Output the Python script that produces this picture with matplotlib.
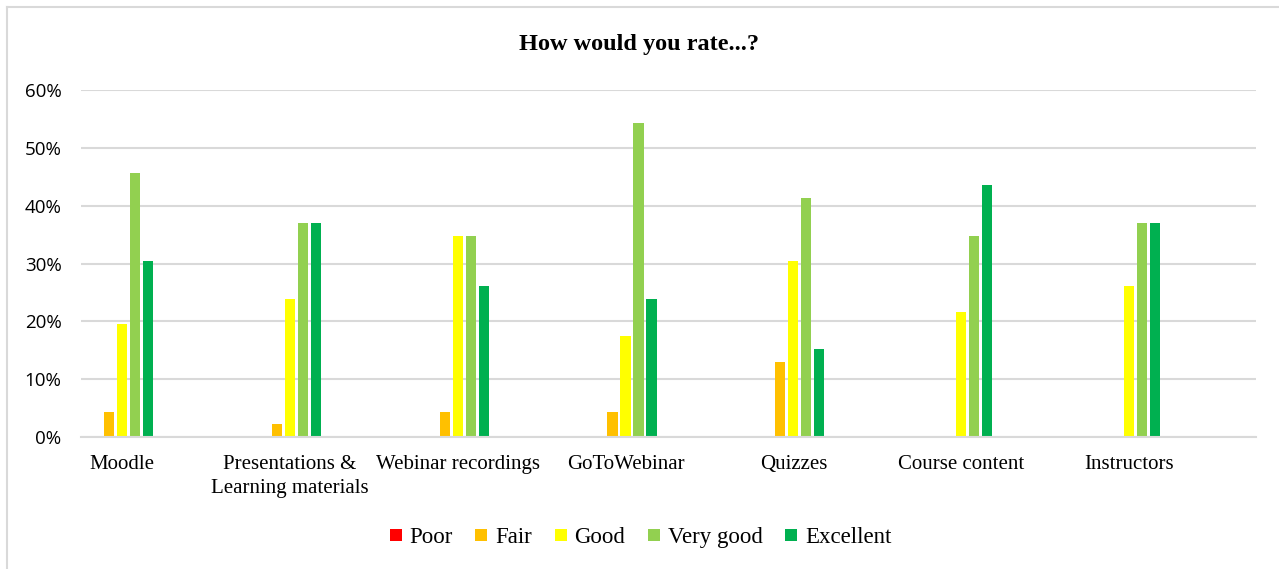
import matplotlib
matplotlib.use("Agg")
import matplotlib.pyplot as plt
import numpy as np
from matplotlib.lines import Line2D
from matplotlib.ticker import FuncFormatter, MultipleLocator

categories = ["Moodle", "Presentations &\nLearning materials", "Webinar recordings",
              "GoToWebinar", "Quizzes", "Course content", "Instructors"]
series = ["Poor", "Fair", "Good", "Very good", "Excellent"]
poor = [0, 0, 0, 0, 0, 0, 0]
fair = [4.3, 2.2, 4.3, 4.3, 13.0, 0, 0]
good = [19.6, 23.9, 34.8, 17.4, 30.4, 21.7, 26.1]
very_good = [45.7, 37.0, 34.8, 54.3, 41.3, 34.8, 37.0]
excellent = [30.4, 37.0, 26.1, 23.9, 15.2, 43.5, 37.0]
colors = ["#FF0000", "#FFC000", "#FFFF00", "#92D050", "#00B050"]

serif = ["Liberation Serif", "DejaVu Serif"]
sans = ["Open Sans", "DejaVu Sans"]

fig = plt.figure(figsize=(12.79, 5.69), dpi=100)
ax = fig.add_axes([0.0633, 0.232, 0.9187, 0.6098])

x = np.arange(len(categories))
pitch = 0.0775
width = 0.06
values = [poor, fair, good, very_good, excellent]
for k, (name, vals, c) in enumerate(zip(series, values, colors)):
    v = np.array(vals) / 100.0
    ax.bar(x + (k - 2) * pitch, v, width=width, color=c, label=name, linewidth=0)

ax.set_ylim(0, 0.6)
ax.set_xlim(-0.245, 6.757)
ax.yaxis.set_major_locator(MultipleLocator(0.1))
ax.yaxis.set_major_formatter(FuncFormatter(lambda v, p: f"{v * 100:.0f}%"))
ax.grid(axis="y", color="#D9D9D9", linewidth=1.5)
ax.set_axisbelow(True)
for s in ["top", "right", "left"]:
    ax.spines[s].set_visible(False)
ax.spines["bottom"].set_color("#D9D9D9")
ax.spines["bottom"].set_linewidth(1.5)
ax.tick_params(axis="both", length=0)
ax.tick_params(axis="y", pad=14, labelsize=13.5, labelcolor="#000000")
ax.set_xticks(x)
ax.set_xticklabels(categories, fontfamily=serif, fontsize=15, linespacing=1.32)
ax.tick_params(axis="x", pad=13)
for lab in ax.get_yticklabels():
    lab.set_fontfamily(sans)

fig.text(0.5, 0.921, "How would you rate...?", ha="center", va="center",
         fontfamily=serif, fontsize=17.5, fontweight="bold")

handles = [Line2D([], [], marker="s", linestyle="", markersize=8.5,
                  markerfacecolor=c, markeredgewidth=0) for c in colors]
fig.legend(handles, series, loc="center", bbox_to_anchor=(0.5, 0.056), ncol=5,
           frameon=False, prop={"family": serif, "size": 16.5},
           handlelength=0.7, handletextpad=0.25, columnspacing=0.9)

# chart border (left and top edges)
fig.add_artist(Line2D([7 / 1279, 7 / 1279], [0, 1 - 7 / 569], transform=fig.transFigure,
                      color="#D9D9D9", linewidth=1.5))
fig.add_artist(Line2D([7 / 1279, 1], [1 - 7 / 569, 1 - 7 / 569], transform=fig.transFigure,
                      color="#D9D9D9", linewidth=1.5))

fig.savefig("out.png", dpi=100)
